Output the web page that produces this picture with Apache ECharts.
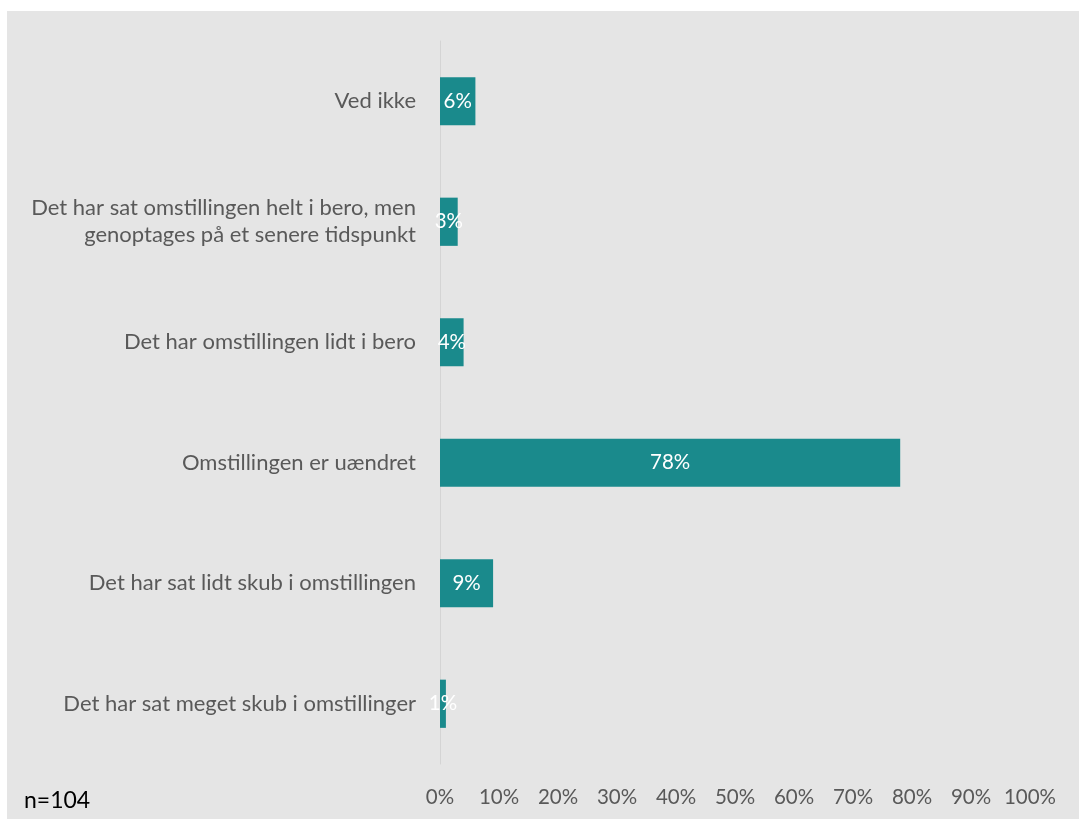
<!DOCTYPE html>
<html>
<head>
<meta charset="utf-8">
<script src="https://cdn.jsdelivr.net/npm/echarts@6/dist/echarts.min.js"></script>
<style>
  html, body { margin: 0; padding: 0; background: #ffffff; }
  #chart { width: 1079px; height: 821px; }
</style>
</head>
<body>
<div id="chart"></div>
<script>
// Answer categories, top to bottom
const categories = [
  'Ved ikke',
  'Det har sat omstillingen helt i bero, men\ngenoptages på et senere tidspunkt',
  'Det har omstillingen lidt i bero',
  'Omstillingen er uændret',
  'Det har sat lidt skub i omstillingen',
  'Det har sat meget skub i omstillinger'
];
// Share of respondents, percent
const shares = [6, 3, 4, 78, 9, 1];
const sampleNote = 'n=104';

const chart = echarts.init(document.getElementById('chart'), null, { renderer: 'canvas' });
const font = 'Lato, "Open Sans", sans-serif';

chart.setOption({
  animation: false,
  backgroundColor: '#ffffff',
  graphic: [
    {
      type: 'rect',
      z: -10,
      shape: { x: 7, y: 11, width: 1072, height: 808 },
      style: { fill: '#e5e5e5' }
    },
    {
      type: 'text',
      left: 24,
      top: 789,
      style: { text: sampleNote, fontSize: 23, fill: '#000000', fontFamily: font }
    }
  ],
  grid: { left: 440, right: 49, top: 41, bottom: 57, containLabel: false },
  xAxis: {
    type: 'value',
    min: 0,
    max: 100,
    interval: 10,
    axisLine: { show: false },
    axisTick: { show: false },
    splitLine: { show: false },
    axisLabel: {
      formatter: '{value}%',
      color: '#595959',
      fontSize: 20.5,
      fontFamily: font,
      margin: 23
    }
  },
  yAxis: {
    type: 'category',
    data: categories,
    inverse: true,
    axisLine: { show: true, lineStyle: { color: '#d4d4d4', width: 1 } },
    axisTick: { show: false },
    axisLabel: {
      color: '#595959',
      fontSize: 22,
      fontFamily: font,
      lineHeight: 27,
      margin: 24,
      align: 'right'
    }
  },
  series: [{
    type: 'bar',
    data: shares,
    barCategoryGap: '60%',
    itemStyle: { color: '#1a8a8c' },
    label: {
      show: true,
      position: 'inside',
      formatter: '{c}%',
      color: '#ffffff',
      fontSize: 20.5,
      fontFamily: font
    }
  }]
});
</script>
</body>
</html>
